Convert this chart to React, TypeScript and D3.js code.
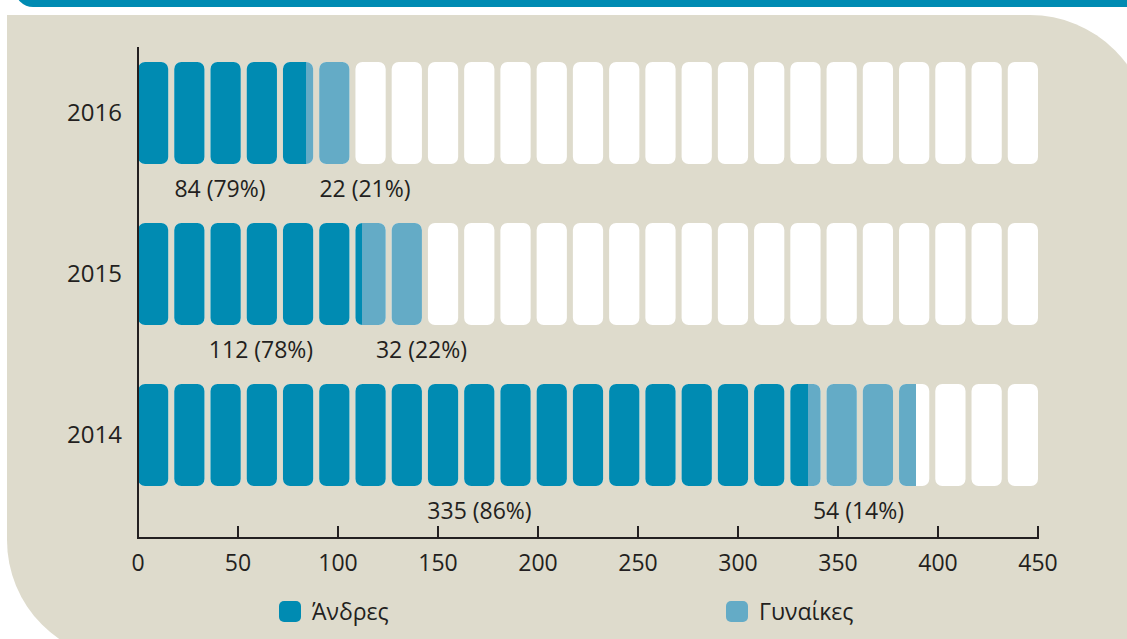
import React from "react";
import * as d3 from "d3";

const years = ["2016", "2015", "2014"];
const men = [84, 112, 335];
const women = [22, 32, 54];
const menLabels = ["84 (79%)", "112 (78%)", "335 (86%)"];
const womenLabels = ["22 (21%)", "32 (22%)", "54 (14%)"];
// label anchor values (in data units) as placed in the original
const menLabelAt = [41, 61.5, 170.75];
const womenLabelAt = [113.5, 141.75, 360.25];
const xTicks = [0, 50, 100, 150, 200, 250, 300, 350, 400, 450];
const legendItems = ["Άνδρες", "Γυναίκες"];

const W = 1127;
const H = 639;
const MEN_C = "#008bb2";
const WOMEN_C = "#64abc6";
const BG = "#dedbcc";
const INK = "#231f20";
const FONT = "'Open Sans', sans-serif";

export default function App() {
  React.useEffect(() => {
    document.body.style.margin = "0";
  }, []);

  const x = d3.scaleLinear().domain([0, 450]).range([138, 1038]);
  const y = d3.scaleBand<string>().domain(years).range([62, 486]).paddingInner(0.366).paddingOuter(0);
  const nSeg = 25;
  const gap = 3; // data units
  const segW = (450 - (nSeg - 1) * gap) / nSeg;
  const segStarts = d3.range(nSeg).map((k) => k * (segW + gap));
  const bh = y.bandwidth();

  const r = 120;
  const px0 = 7, py0 = 15, px1 = 1150, py1 = 660;
  const panel = `M${px0},${py0} L${px1 - r},${py0} A${r},${r} 0 0 1 ${px1},${py0 + r} L${px1},${py1} L${px0 + r},${py1} A${r},${r} 0 0 1 ${px0},${py1 - r} Z`;

  const axisY = 538;

  return (
    <svg width={W} height={H} style={{ position: "absolute", left: 0, top: 0, display: "block" }} fontFamily={FONT}>
      <rect x={0} y={0} width={W} height={H} fill="#ffffff" />
      <rect x={15} y={-40} width={1200} height={47} rx={18} fill={MEN_C} />
      <path d={panel} fill={BG} />
      <defs>
        {years.map((yr) => (
          <clipPath id={`clip-${yr}`} key={yr}>
            {segStarts.map((s) => (
              <rect key={s} x={x(s)} y={y(yr)!} width={x(s + segW) - x(s)} height={bh} rx={7} ry={7} />
            ))}
          </clipPath>
        ))}
      </defs>
      {years.map((yr, i) => {
        const y0 = y(yr)!;
        return (
          <g key={yr}>
            <g clipPath={`url(#clip-${yr})`}>
              <rect x={x(0)} y={y0} width={x(450) - x(0)} height={bh} fill="#ffffff" />
              <rect x={x(0)} y={y0} width={x(men[i]) - x(0)} height={bh} fill={MEN_C} />
              <rect x={x(men[i])} y={y0} width={x(men[i] + women[i]) - x(men[i])} height={bh} fill={WOMEN_C} />
            </g>
            <text x={122} y={y0 + bh / 2} dy="0.35em" textAnchor="end" fontSize={24} fill={INK}>
              {yr}
            </text>
            <text x={x(menLabelAt[i])} y={y0 + bh + 33} textAnchor="middle" fontSize={23} fill={INK}>
              {menLabels[i]}
            </text>
            <text x={x(womenLabelAt[i])} y={y0 + bh + 33} textAnchor="middle" fontSize={23} fill={INK}>
              {womenLabels[i]}
            </text>
          </g>
        );
      })}
      <line x1={x(0)} x2={x(0)} y1={47} y2={axisY + 1} stroke={INK} strokeWidth={2} />
      <line x1={x(0) - 1} x2={x(450) + 1} y1={axisY} y2={axisY} stroke={INK} strokeWidth={2} />
      {xTicks.map((t) => (
        <g key={t}>
          <line x1={x(t)} x2={x(t)} y1={axisY - 12} y2={axisY} stroke={INK} strokeWidth={2} />
          <text x={x(t)} y={axisY + 33} textAnchor="middle" fontSize={23} fill={INK}>
            {t}
          </text>
        </g>
      ))}
      {legendItems.map((lab, i) => {
        const lx = [279, 726][i];
        return (
          <g key={lab}>
            <rect x={lx} y={601} width={22} height={21} rx={5} fill={i === 0 ? MEN_C : WOMEN_C} />
            <text x={lx + 33} y={611.5} dy="0.35em" fontSize={23} fill={INK}>
              {lab}
            </text>
          </g>
        );
      })}
    </svg>
  );
}
